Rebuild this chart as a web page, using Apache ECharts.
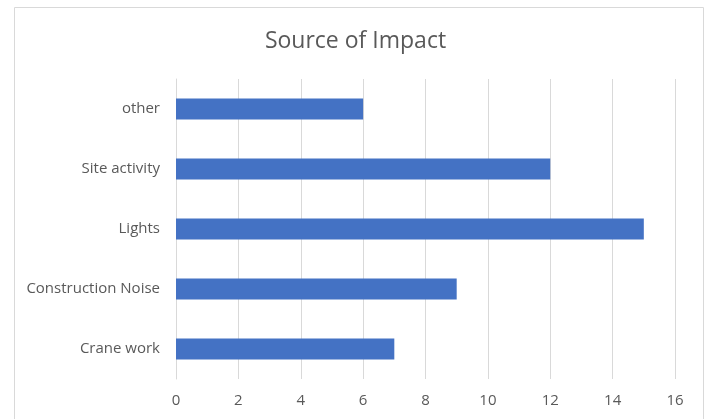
<!DOCTYPE html>
<html><head><meta charset="utf-8">
<script src="https://cdn.jsdelivr.net/npm/echarts@6/dist/echarts.min.js"></script>
<style>html,body{margin:0;padding:0;background:#fff}#c{width:711px;height:419px}</style>
</head><body><div id="c"></div>
<script>
const categories = ['Crane work', 'Construction Noise', 'Lights', 'Site activity', 'other'];
const values = [7, 9, 15, 12, 6];
const xTicks = { min: 0, max: 16, interval: 2 };

const chart = echarts.init(document.getElementById('c'));
chart.setOption({
  animation: false,
  title: {
    text: 'Source of Impact', left: 'center', top: 25,
    textStyle: { fontFamily: 'Open Sans', fontSize: 23, fontWeight: 'normal', color: '#595959' }
  },
  graphic: [{ type: 'rect', shape: { x: 14.5, y: 7.5, width: 689, height: 430 },
    style: { fill: 'none', stroke: '#d9d9d9', lineWidth: 1 }, silent: true }],
  grid: { left: 176, right: 36, top: 79, bottom: 40 },
  xAxis: {
    type: 'value', min: xTicks.min, max: xTicks.max, interval: xTicks.interval,
    axisLine: { show: false }, axisTick: { show: false },
    splitLine: { lineStyle: { color: '#d9d9d9', width: 1 } },
    axisLabel: { color: '#595959', fontFamily: 'Open Sans', fontSize: 15, margin: 14 }
  },
  yAxis: {
    type: 'category', data: categories,
    axisLine: { show: true, lineStyle: { color: '#d9d9d9' } }, axisTick: { show: false },
    axisLabel: { color: '#595959', fontFamily: 'Open Sans', fontSize: 15, margin: 16 }
  },
  series: [{
    type: 'bar', data: values, barWidth: '35%',
    itemStyle: { color: '#4472C4' }
  }]
});
</script></body></html>
